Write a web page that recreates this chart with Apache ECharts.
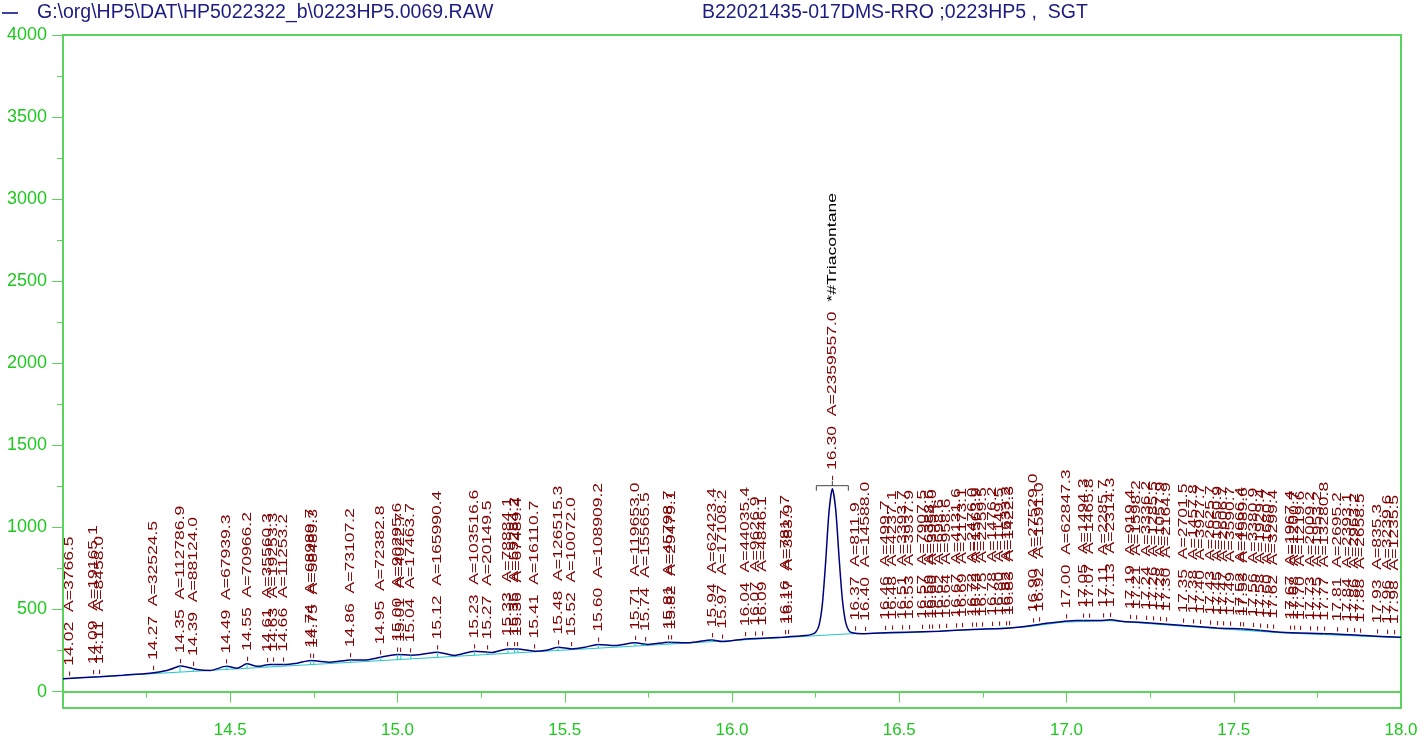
<!DOCTYPE html>
<html><head><meta charset="utf-8">
<script src="https://cdn.jsdelivr.net/npm/echarts@6/dist/echarts.min.js"></script>
<style>html,body{margin:0;padding:0;background:#fff}#c{width:1428px;height:747px}</style>
</head><body><div id="c"></div>
<script>
const fileName = 'G:\\org\\HP5\\DAT\\HP5022322_b\\0223HP5.0069.RAW';
const sampleName = 'B22021435-017DMS-RRO ;0223HP5 ,  SGT';

const traceTime = [14.00,14.05,14.11,14.18,14.26,14.31,14.34,14.35,14.37,14.40,14.44,14.48,14.49,14.52,14.55,14.58,14.62,14.66,14.70,14.74,14.80,14.86,14.90,14.95,15.00,15.04,15.07,15.12,15.17,15.23,15.28,15.33,15.36,15.41,15.45,15.48,15.52,15.56,15.60,15.65,15.71,15.75,15.81,15.87,15.94,15.97,16.04,16.09,16.15,16.22,16.24,16.25,16.26,16.27,16.28,16.29,16.30,16.31,16.32,16.33,16.34,16.35,16.36,16.39,16.44,16.52,16.62,16.72,16.82,16.88,16.94,16.99,17.03,17.10,17.13,17.17,17.25,17.35,17.45,17.55,17.64,17.79,17.89,18.00];
const traceSignal = [78,84,91,100,112,128,150,156,150,134,128,152,154,142,169,154,165,165,173,189,179,193,192,209,226,222,226,240,220,246,238,260,260,246,254,270,260,270,287,280,297,287,301,297,315,305,321,325,331,341,350,362,402,530,790,1095,1236,1110,820,560,420,370,358,352,357,362,368,378,386,398,416,427,433,433,437,427,418,402,388,378,362,352,341,331];

const baseTime = [14.00,16.35,16.52,16.88,16.99,17.13,17.35,17.64,18.00];
const baseSignal = [78,352,358,394,423,432,398,358,328];

const peakRT = [14.02,14.09,14.11,14.27,14.35,14.39,14.49,14.55,14.61,14.63,14.66,14.74,14.75,14.86,14.95,15.00,15.01,15.04,15.12,15.23,15.27,15.33,15.35,15.36,15.41,15.48,15.52,15.60,15.71,15.74,15.81,15.82,15.94,15.97,16.04,16.07,16.09,16.16,16.17,16.30,16.37,16.40,16.46,16.48,16.51,16.53,16.57,16.59,16.60,16.62,16.64,16.67,16.69,16.72,16.73,16.75,16.78,16.80,16.82,16.83,16.90,16.92,17.00,17.05,17.07,17.11,17.13,17.19,17.21,17.24,17.26,17.28,17.30,17.35,17.38,17.40,17.43,17.45,17.47,17.49,17.52,17.53,17.56,17.58,17.60,17.62,17.67,17.68,17.70,17.73,17.75,17.77,17.81,17.84,17.86,17.88,17.93,17.96,17.98];
const peakArea = [3766.5,19165.1,8458.0,32524.5,112786.9,88124.0,67939.3,70966.2,35560.3,19253.3,11253.2,68989.7,58489.3,73107.2,72382.8,90295.6,4022.7,17463.7,165990.4,103516.6,20149.5,78884.1,59284.2,67489.4,16110.7,126515.3,10072.0,108909.2,119653.0,15565.5,45798.7,29479.1,62423.4,17108.2,44035.4,9626.9,4846.1,7817.7,383.9,2359557.0,811.9,14588.0,499.7,4237.1,3393.7,3937.9,7907.5,6388.6,3954.0,698.6,958.6,4131.6,2173.1,2476.0,1563.9,2259.5,1476.2,1149.5,1633.2,1422.3,27529.0,1591.0,62847.3,1494.3,1465.8,2285.7,2314.3,919.4,1598.2,3336.2,1285.5,1057.9,2164.9,2701.5,1457.8,3927.7,2625.7,1050.9,2606.7,3590.7,4666.4,1589.6,3380.9,1929.4,1680.7,3299.4,1967.4,1200.7,1219.6,2009.2,1953.2,13280.8,2695.2,2393.1,2963.2,2658.5,835.3,3239.6,1235.5];

const namedRT = [16.30];
const namedLabel = ['*#Triacontane'];

const xLabelValues = [14.5,15.0,15.5,16.0,16.5,17.0,17.5,18.0];
const xMinorTicks = [14.25,14.75,15.25,15.75,16.25,16.75,17.25,17.75];
const yLabelValues = [0,500,1000,1500,2000,2500,3000,3500,4000];
const yMinorTicks = [250,750,1250,1750,2250,2750,3250,3750];

function interp(ts, vs, t) {
  if (t <= ts[0]) return vs[0];
  for (let i = 1; i < ts.length; i++) {
    if (t <= ts[i]) {
      const f = (t - ts[i-1]) / (ts[i] - ts[i-1]);
      return vs[i-1] + f * (vs[i] - vs[i-1]);
    }
  }
  return vs[vs.length-1];
}

const AX = '#5cd35c', LBL = '#1ec81e', RED = '#800000', FONT = '"Liberation Sans", Arial, sans-serif';
const peakData = peakRT.map((rt, i) => [rt, interp(traceTime, traceSignal, rt), interp(baseTime, baseSignal, rt), peakArea[i]]);

function renderPeak(params, api) {
  const rt = api.value(0), sig = api.value(1), base = api.value(2), area = api.value(3);
  const top = api.coord([rt, sig]);
  const bot = api.coord([rt, base]);
  const children = [];
  const h = bot[1] - top[1];
  if (h > 1 && h < 40) {
    children.push({type:'line', shape:{x1:top[0], y1:top[1], x2:bot[0], y2:bot[1]}, style:{stroke:'#22c8c8', lineWidth:1}});
  }
  const k = namedRT.findIndex(v => Math.abs(v - rt) < 1e-6);
  const main = '- ' + rt.toFixed(2) + '  A=' + area.toFixed(1);
  let y0 = top[1] - 2;
  const fs = 13;
  let style;
  if (k >= 0) {
    const by = top[1] - 3;
    const x = top[0];
    children.push({type:'polyline', shape:{points:[[x-16,by+5],[x-16,by],[x+16,by],[x+16,by+5]]}, style:{stroke:'#444', lineWidth:1, fill:null}});
    children.push({type:'line', shape:{x1:x, y1:by, x2:x, y2:by-5}, style:{stroke:'#444', lineWidth:1}});
    y0 = by - 5;
    style = {text: '{a|' + main + '}{b|  ' + namedLabel[k] + '}',
      rich:{a:{fill:RED, fontSize:fs, fontFamily:FONT}, b:{fill:'#000', fontSize:fs, fontFamily:FONT}},
      align:'left', verticalAlign:'middle', fill:RED, fontSize:fs, fontFamily:FONT};
  } else {
    style = {text: main, fill: RED, fontSize: fs, fontFamily: FONT, align:'left', verticalAlign:'middle'};
  }
  children.push({type:'text', x: top[0], y: y0, rotation: Math.PI/2, scaleX: 1.35, scaleY: 1, style: style});
  return {type:'group', children};
}

const chart = echarts.init(document.getElementById('c'), null, {renderer:'canvas'});
chart.setOption({
  animation: false,
  backgroundColor: '#fff',
  title: [{
    text: sampleName, left: 702, top: 3, padding: 0,
    textStyle: {color:'#1c1c80', fontSize:19.5, fontWeight:'normal', fontFamily:FONT}
  }],
  legend: {
    data: [fileName], left: 2, top: 3, padding: 0, icon: 'rect', itemWidth: 16, itemHeight: 1.5,
    textStyle: {color:'#1c1c80', fontSize:19.5, fontFamily:FONT, padding:[0,0,0,14]}
  },
  grid: {left:63, right:27, top:35, bottom:39, show:true, borderColor:AX, borderWidth:2, backgroundColor:'#fff'},
  xAxis: [{
    type:'value', min:14, max:18,
    axisLine:{show:true, lineStyle:{color:AX, width:2}},
    axisTick:{show:true, customValues:xLabelValues, length:11, lineStyle:{color:AX}},
    axisLabel:{show:true, customValues:xLabelValues, formatter:v=>v.toFixed(1), color:LBL, fontSize:17, margin:14, fontFamily:FONT},
    splitLine:{show:false}
  },{
    type:'value', min:14, max:18, position:'bottom',
    axisLine:{show:false},
    axisTick:{show:true, customValues:xMinorTicks, length:6, lineStyle:{color:AX}},
    axisLabel:{show:false}, splitLine:{show:false}
  }],
  yAxis: [{
    type:'value', min:-100, max:4000,
    axisLine:{show:true, lineStyle:{color:AX, width:2}},
    axisTick:{show:true, customValues:yLabelValues, length:11, lineStyle:{color:AX}},
    axisLabel:{show:true, customValues:yLabelValues, formatter:v=>String(v), color:LBL, fontSize:18, margin:16, fontFamily:FONT},
    splitLine:{show:false}
  },{
    type:'value', min:-100, max:4000, position:'left',
    axisLine:{show:false},
    axisTick:{show:true, customValues:yMinorTicks, length:6, lineStyle:{color:AX}},
    axisLabel:{show:false}, splitLine:{show:false}
  }],
  series: [{
    name: 'baseline', type:'line', xAxisIndex:0, yAxisIndex:0,
    data: baseTime.map((t,i)=>[t, baseSignal[i]]),
    showSymbol:false, symbol:'none', lineStyle:{color:'#22c8c8', width:1}, z:2, silent:true
  },{
    name: fileName, type:'line', xAxisIndex:0, yAxisIndex:0,
    data: traceTime.map((t,i)=>[t, traceSignal[i]]),
    showSymbol:false, symbol:'none', smooth:0.25, lineStyle:{color:'#000080', width:1.5}, itemStyle:{color:'#000080'}, z:3
  },{
    name: 'peaks', type:'custom', xAxisIndex:0, yAxisIndex:0,
    data: peakData, renderItem: renderPeak, encode:{x:0, y:1}, z:4, clip:false, silent:true
  }]
});
</script></body></html>
